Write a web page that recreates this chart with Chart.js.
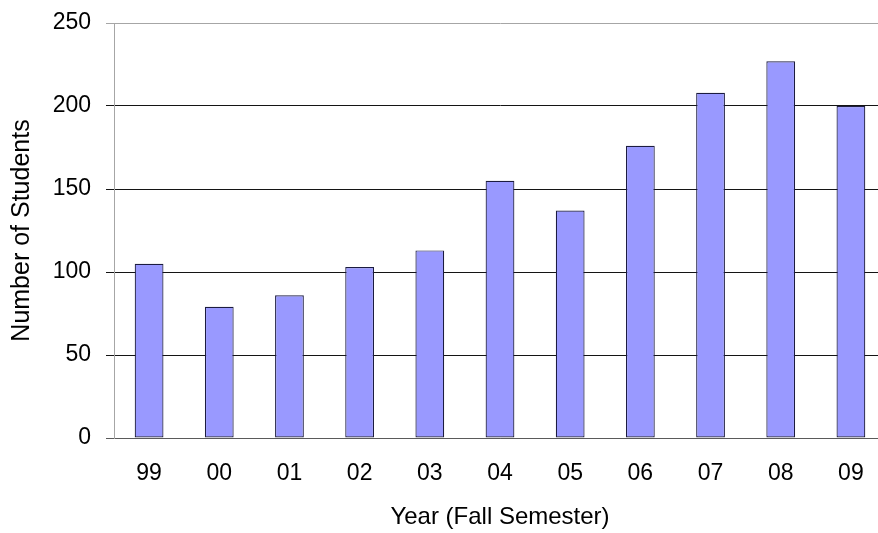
<!DOCTYPE html>
<html>
<head>
<meta charset="utf-8">
<script src="https://cdn.jsdelivr.net/npm/chart.js@4.4.1/dist/chart.umd.min.js"></script>
<style>
  html, body { margin: 0; padding: 0; background: #ffffff; }
  #wrap { width: 878px; height: 533px; overflow: hidden; position: relative; }
  canvas { display: block; }
</style>
</head>
<body>
<div id="wrap"><canvas id="c" width="886" height="533"></canvas></div>
<script>
// Enrollment by fall semester
const years = ['99', '00', '01', '02', '03', '04', '05', '06', '07', '08', '09'];
const students = [105, 79, 86, 103, 113, 155, 137, 176, 208, 227, 200];
const yTicks = [0, 50, 100, 150, 200, 250];

const FAMILY = '"Liberation Sans", Arial, sans-serif';
const TICK_FONT = { family: FAMILY, size: 23 };

function gridColor(ctx) {
  const v = ctx.tick && ctx.tick.value;
  if (v === 250) return '#a6a6a6';
  if (v === 0) return '#5a5a5a';
  return '#141414';
}

new Chart(document.getElementById('c'), {
  type: 'bar',
  data: {
    labels: years,
    datasets: [{
      data: students,
      backgroundColor: '#9999ff',
      borderColor: '#1c1c40',
      borderWidth: 1.2,
      borderSkipped: false,
      barPercentage: 0.41,
      categoryPercentage: 1.0
    }]
  },
  options: {
    responsive: false,
    animation: false,
    devicePixelRatio: 1,
    layout: { padding: { top: 23, right: 0, bottom: 0, left: 0 } },
    plugins: { legend: { display: false }, tooltip: { enabled: false } },
    scales: {
      x: {
        offset: true,
        grid: { display: false, drawTicks: false },
        border: { display: true, color: '#5a5a5a', width: 1 },
        ticks: { color: '#000', font: TICK_FONT, padding: 22, maxRotation: 0 },
        title: {
          display: true,
          text: 'Year (Fall Semester)',
          color: '#000',
          font: { family: FAMILY, size: 24 },
          padding: { top: 0, bottom: 1 }
        },
        afterFit(scale) { scale.height = 95; }
      },
      y: {
        min: 0,
        max: 250,
        afterBuildTicks(scale) { scale.ticks = yTicks.map(v => ({ value: v })); },
        grid: {
          color: gridColor,
          tickColor: gridColor,
          tickLength: 8,
          lineWidth: 1
        },
        border: { display: true, color: '#a6a6a6', width: 1 },
        ticks: { color: '#000', font: TICK_FONT, padding: 15 },
        title: {
          display: true,
          text: 'Number of Students',
          color: '#000',
          font: { family: FAMILY, size: 25 },
          padding: { top: 7, bottom: 0 }
        },
        afterFit(scale) {
          scale.width = 114;
          // the plot top is set by the layout padding alone
          scale.paddingTop = 0;
          scale.paddingBottom = 0;
        }
      }
    }
  }
});
</script>
</body>
</html>
